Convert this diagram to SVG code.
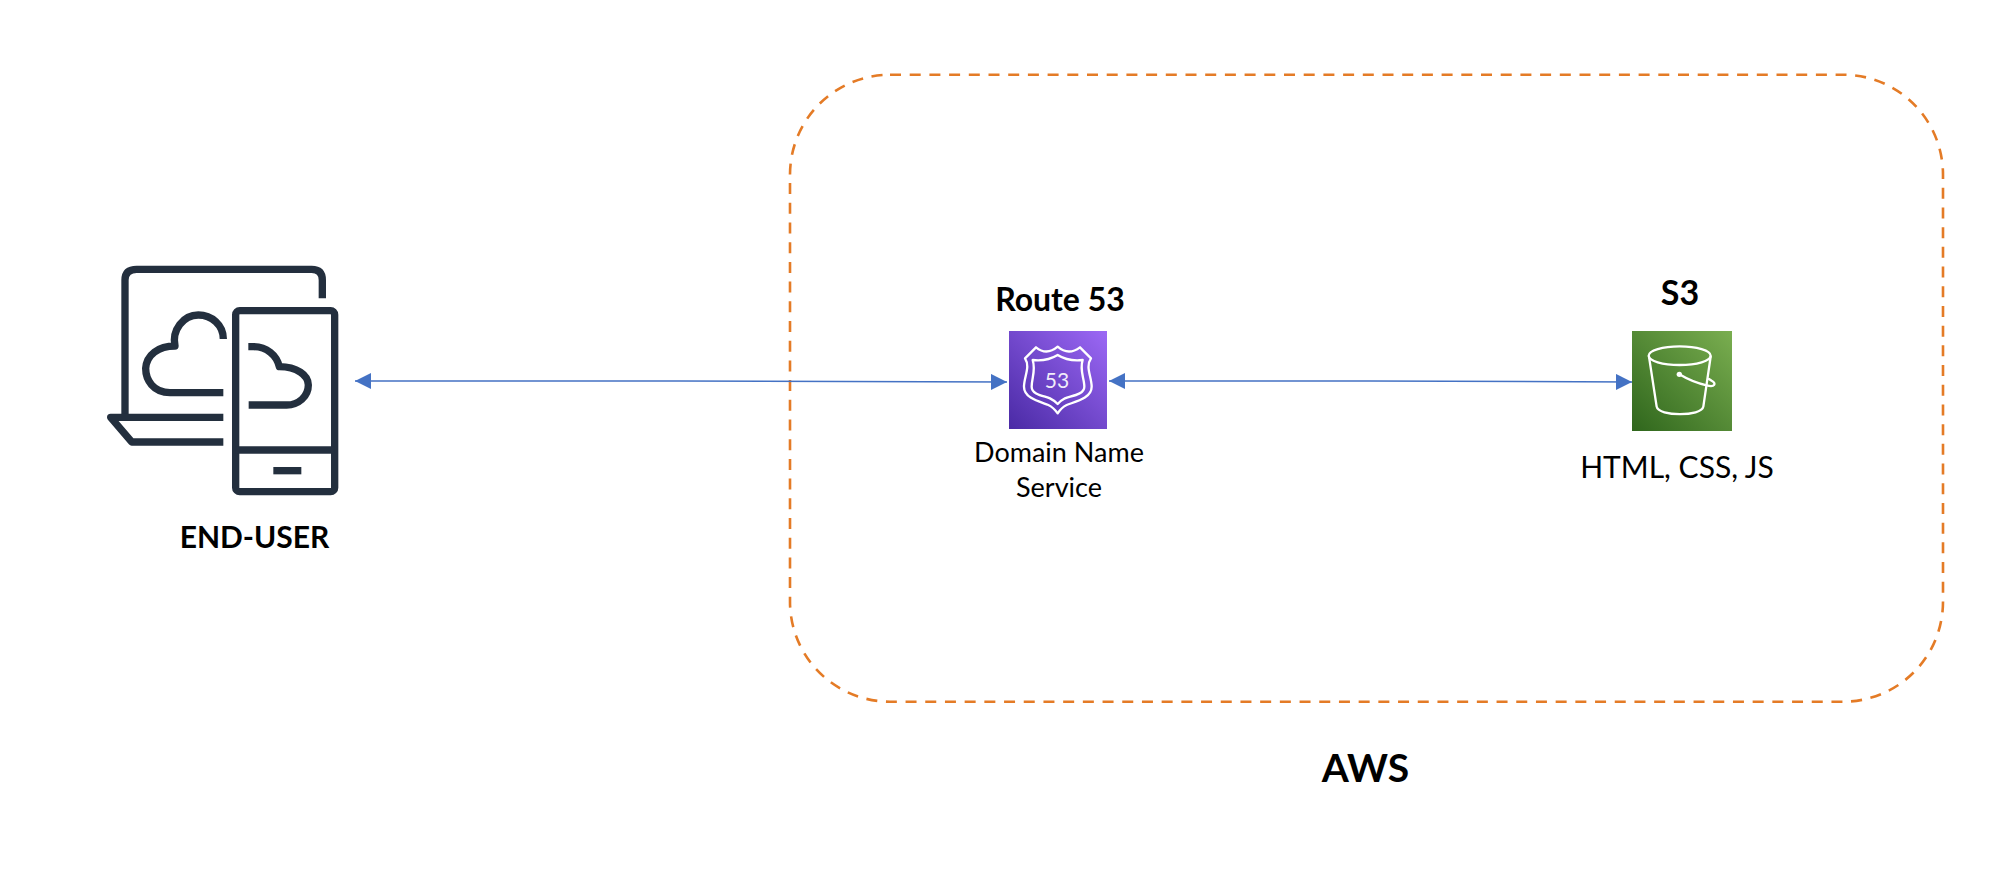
<svg xmlns="http://www.w3.org/2000/svg" width="2000" height="873" viewBox="0 0 2000 873">
<style>
text{font-family:"Lato","Carlito","Liberation Sans",sans-serif;fill:#000;text-anchor:middle}
.b{font-weight:700}
.ln{fill:none;stroke:#232f3e;stroke-width:22}
.w{fill:none;stroke:#fff;stroke-width:7;stroke-linejoin:round;stroke-linecap:round}
.c{fill:none;stroke:#4472c4;stroke-width:1.5;marker-start:url(#ah);marker-end:url(#ah)}
</style>
<defs>
<marker id="ah" markerUnits="userSpaceOnUse" markerWidth="17" markerHeight="17" refX="16" refY="8" orient="auto-start-reverse"><path d="M0,0L16,8L0,16Z" fill="#4472c4"/></marker>
<linearGradient id="pg" x1="0" y1="1" x2="1" y2="0"><stop offset="0" stop-color="#4a2aa5"/><stop offset="1" stop-color="#9c68f5"/></linearGradient>
<linearGradient id="gg" x1="0" y1="1" x2="1" y2="0"><stop offset="0" stop-color="#2f661c"/><stop offset="1" stop-color="#7aae50"/></linearGradient>
</defs>
<g id="aws-boundary"><rect x="790" y="74.7" width="1153" height="627" rx="100" ry="100" fill="none" stroke="#e47b26" stroke-width="2.6" stroke-dasharray="11 8.7"/>
<text class="b" x="1365.500" y="782" font-size="39">AWS</text></g>
<g id="connectors">
<path class="c" d="M355,381H680L1007,382"/>
<path class="c" d="M1109,381H1370L1632,382"/>
</g>
<g id="end-user">
<g transform="translate(90,240) scale(.33333)">
<path class="ln" d="M697,175V120Q697,88 665,88H140Q105,88 105,120V530"/>
<path class="ln" stroke-linejoin="round" d="M400,532H62L125,606H400"/>
<path class="ln" stroke-linejoin="round" d="M400,458H240C190,458 167,420 167,385C170,345 205,318 255,318C245,270 280,225 325,225C365,225 400,255 400,297"/>
<path class="ln" stroke-linejoin="round" d="M475,320H490C530,320 560,345 568,380C620,380 655,405 655,435C655,470 625,495 590,495H476"/>
<rect class="ln" x="437" y="212" width="297" height="543" rx="12"/>
<path class="ln" d="M437,630H733"/>
<rect x="550" y="681" width="84" height="22" fill="#232f3e"/>
</g>
<text class="b" x="254.500" y="548" font-size="30">END-USER</text>
</g>
<g id="route53">
<text class="b" x="1060" y="311" font-size="32">Route 53</text>
<rect x="1009" y="331" width="98" height="98" fill="url(#pg)"/>
<g transform="translate(950,270) scale(.33333)">
<path class="w" d="M258,232Q290,258 323,230Q355,258 390,232L423,265C405,290 425,320 425,350C425,385 375,395 350,405Q335,412 323,430Q310,412 295,405C270,395 222,385 222,350C222,320 242,290 225,265Z"/>
<path class="w" d="M248,270Q290,275 323,255Q355,275 398,270C388,300 403,325 403,350C403,375 360,378 345,385Q332,392 323,402Q314,392 300,385C285,378 245,375 245,350C245,325 258,300 248,270Z"/>
</g>
<text x="1057" y="388" font-size="21" style="fill:#fff;opacity:.9">53</text>
<text x="1059" y="462" font-size="27">Domain Name</text>
<text x="1059" y="497" font-size="27">Service</text>
</g>
<g id="s3">
<text class="b" x="1680" y="305" font-size="34">S3</text>
<rect x="1632" y="331" width="100" height="100" fill="url(#gg)"/>
<g transform="translate(1560,260) scale(.33333)">
<ellipse class="w" cx="359" cy="287" rx="93" ry="28"/>
<path class="w" d="M267,290L290,440C295,470 425,470 430,440L452,290"/>
<circle cx="358" cy="343" r="8" fill="#fff"/>
<path class="w" d="M358,343Q400,368 440,376C465,383 470,370 455,362L447,357"/>
</g>
<text x="1677" y="478" font-size="30">HTML, CSS, JS</text>
</g>
</svg>
